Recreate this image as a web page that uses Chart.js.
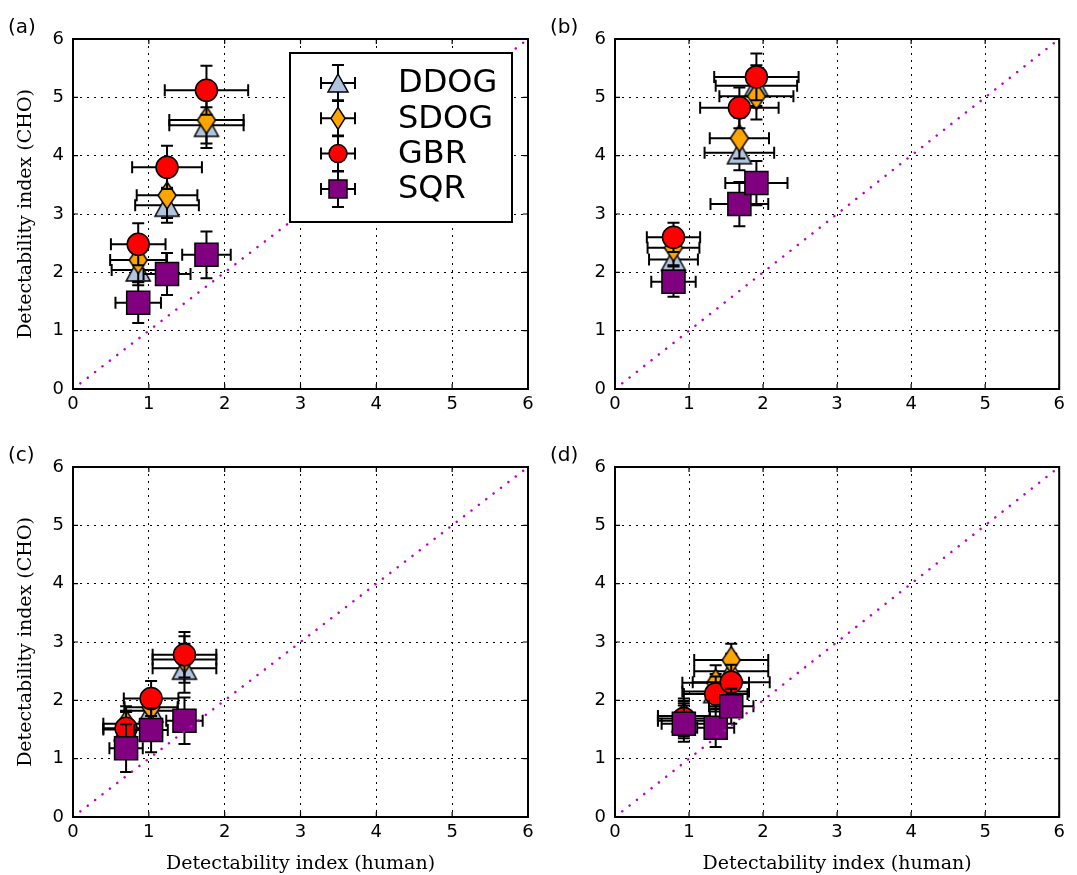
<!DOCTYPE html>
<html><head><meta charset="utf-8">
<script src="https://cdn.jsdelivr.net/npm/chart.js@4/dist/chart.umd.min.js"></script>
<style>
html,body{margin:0;padding:0;background:#fff;}
#wrap{position:relative;width:1077px;height:875px;overflow:hidden;background:#fff;}
#wrap canvas{position:absolute;left:0;top:0;}
</style></head><body>
<div id="wrap">
<canvas id="c0" width="1077" height="875"></canvas>
<canvas id="c1" width="1077" height="875"></canvas>
<canvas id="c2" width="1077" height="875"></canvas>
<canvas id="c3" width="1077" height="875"></canvas>
</div>
<script>
// ---------- data ----------
const tickValues = [0, 1, 2, 3, 4, 5, 6];
const panelLabels = ['(a)', '(b)', '(c)', '(d)'];
const seriesNames = ['DDOG', 'SDOG', 'GBR', 'SQR'];
const xTitle = 'Detectability index (human)';
const yTitle = 'Detectability index (CHO)';
// human detectability (x) per panel, 3 conditions each
const humanX = [[0.86, 1.24, 1.76], [0.79, 1.68, 1.91], [0.70, 1.03, 1.47], [0.93, 1.36, 1.57]];
// CHO detectability (y) per series, per panel
const ddogY    = [[2.04, 3.15, 4.52], [2.22, 4.05, 5.20], [1.50, 1.82, 2.55], [1.65, 2.15, 2.50]];
const ddogYErr = [[0.26, 0.30, 0.31], [0.25, 0.30, 0.35], [0.30, 0.30, 0.42], [0.30, 0.30, 0.30]];
const ddogXErr = [[0.35, 0.42, 0.49], [0.33, 0.47, 0.55], [0.30, 0.35, 0.42], [0.35, 0.45, 0.50]];
const sdogY    = [[2.21, 3.32, 4.61], [2.42, 4.30, 5.02], [1.60, 1.88, 2.70], [1.73, 2.30, 2.69]];
const sdogYErr = [[0.37, 0.39, 0.48], [0.30, 0.35, 0.40], [0.30, 0.30, 0.40], [0.30, 0.30, 0.28]];
const sdogXErr = [[0.37, 0.40, 0.49], [0.35, 0.40, 0.50], [0.30, 0.35, 0.42], [0.35, 0.45, 0.50]];
const gbrY     = [[2.48, 3.80, 5.12], [2.60, 4.82, 5.35], [1.52, 2.03, 2.78], [1.69, 2.11, 2.31]];
const gbrYErr  = [[0.36, 0.37, 0.42], [0.25, 0.35, 0.40], [0.30, 0.30, 0.39], [0.30, 0.30, 0.30]];
const gbrXErr  = [[0.36, 0.46, 0.55], [0.36, 0.53, 0.57], [0.30, 0.36, 0.42], [0.35, 0.43, 0.52]];
const sqrY     = [[1.48, 1.97, 2.30], [1.84, 3.17, 3.53], [1.18, 1.49, 1.65], [1.60, 1.53, 1.90]];
const sqrYErr  = [[0.35, 0.36, 0.40], [0.26, 0.38, 0.38], [0.41, 0.38, 0.40], [0.31, 0.33, 0.30]];
const sqrXErr  = [[0.30, 0.31, 0.32], [0.30, 0.39, 0.42], [0.22, 0.22, 0.24], [0.30, 0.25, 0.30]];
const identityLine = [0, 6];

// ---------- styles ----------
const seriesColors = ['#b0c4de', '#ffa500', '#ff0000', '#800080'];
const seriesY = [ddogY, sdogY, gbrY, sqrY];
const seriesYErr = [ddogYErr, sdogYErr, gbrYErr, sqrYErr];
const seriesXErr = [ddogXErr, sdogXErr, gbrXErr, sqrXErr];
const W = 1077, H = 875;
const areas = [[73, 39, 528, 389], [615, 39, 1068, 389], [73, 467, 528, 817], [615, 467, 1068, 817]];

Chart.defaults.font.family = "'DejaVu Sans', sans-serif";
Chart.defaults.color = '#000';

function triPath(g, cx, cy, w, h) {
  g.beginPath(); g.moveTo(cx, cy - h / 2); g.lineTo(cx + w / 2, cy + h / 2); g.lineTo(cx - w / 2, cy + h / 2); g.closePath();
}
function diaPath(g, cx, cy, w, h) {
  g.beginPath(); g.moveTo(cx, cy - h / 2); g.lineTo(cx + w / 2, cy); g.lineTo(cx, cy + h / 2); g.lineTo(cx - w / 2, cy); g.closePath();
}
function markerCanvas(kind, w, h, color) {
  const c = document.createElement('canvas');
  c.width = Math.round(w + 8); c.height = Math.round(h + 8);
  const g = c.getContext('2d');
  if (kind === 'tri') triPath(g, c.width / 2, c.height / 2, w, h); else diaPath(g, c.width / 2, c.height / 2, w, h);
  g.fillStyle = color; g.fill(); g.lineWidth = 1.5; g.strokeStyle = '#000'; g.stroke();
  return c;
}
const triImg = markerCanvas('tri', 24, 22, seriesColors[0]);
const diaImg = markerCanvas('dia', 18, 27, seriesColors[1]);
const pointStyles = [triImg, diaImg, 'circle', 'rect'];
const pointRadii = [12, 12, 11, 16.3];

function drawLegendMarker(g, k, cx, cy) {
  g.fillStyle = seriesColors[k]; g.strokeStyle = '#000'; g.lineWidth = 1.5;
  if (k === 0) triPath(g, cx, cy, 20, 18);
  else if (k === 1) diaPath(g, cx, cy, 14, 22);
  else if (k === 2) { g.beginPath(); g.arc(cx, cy, 9, 0, Math.PI * 2); }
  else { g.beginPath(); g.rect(cx - 9, cy - 9, 18, 18); }
  g.fill(); g.stroke();
}

const errorBarPlugin = {
  id: 'errorBars',
  beforeDatasetDraw(chart, args) {
    const ds = chart.data.datasets[args.index];
    if (!ds.xErr) return;
    const xs = chart.scales.x, ys = chart.scales.y, g = chart.ctx, cap = 6;
    g.save(); g.strokeStyle = '#000'; g.lineWidth = 2;
    ds.data.forEach((p, j) => {
      const px = xs.getPixelForValue(p.x), py = ys.getPixelForValue(p.y);
      const x0 = xs.getPixelForValue(p.x - ds.xErr[j]), x1 = xs.getPixelForValue(p.x + ds.xErr[j]);
      const y0 = ys.getPixelForValue(p.y - ds.yErr[j]), y1 = ys.getPixelForValue(p.y + ds.yErr[j]);
      g.beginPath();
      g.moveTo(x0, py); g.lineTo(x1, py);
      g.moveTo(px, y0); g.lineTo(px, y1);
      g.moveTo(x0, py - cap); g.lineTo(x0, py + cap);
      g.moveTo(x1, py - cap); g.lineTo(x1, py + cap);
      g.moveTo(px - cap, y0); g.lineTo(px + cap, y0);
      g.moveTo(px - cap, y1); g.lineTo(px + cap, y1);
      g.stroke();
    });
    g.restore();
  }
};

const framePlugin = {
  id: 'frame',
  afterDraw(chart) {
    const g = chart.ctx, a = chart.chartArea, xs = chart.scales.x, ys = chart.scales.y;
    const idx = chart.options.plugins.frame.index;
    g.save();
    g.strokeStyle = '#000'; g.lineWidth = 1.2;
    g.beginPath();
    tickValues.forEach(v => {
      const px = xs.getPixelForValue(v), py = ys.getPixelForValue(v);
      g.moveTo(px, a.bottom); g.lineTo(px, a.bottom - 5);
      g.moveTo(px, a.top); g.lineTo(px, a.top + 5);
      g.moveTo(a.left, py); g.lineTo(a.left + 5, py);
      g.moveTo(a.right, py); g.lineTo(a.right - 5, py);
    });
    g.stroke();
    // legend (panel a)
    if (idx === 0) {
      const bx = a.left + 217, by = a.top + 14, bw = 222, bh = 169;
      g.fillStyle = '#fff'; g.fillRect(bx, by, bw, bh);
      g.lineWidth = 2; g.strokeStyle = '#000'; g.strokeRect(bx, by, bw, bh);
      seriesNames.forEach((name, k) => {
        const cx = bx + 48, cy = by + 30 + k * 35.3;
        g.strokeStyle = '#000'; g.lineWidth = 2;
        g.beginPath();
        g.moveTo(cx - 17, cy); g.lineTo(cx + 17, cy);
        g.moveTo(cx, cy - 18); g.lineTo(cx, cy + 18);
        g.moveTo(cx - 17, cy - 6); g.lineTo(cx - 17, cy + 6);
        g.moveTo(cx + 17, cy - 6); g.lineTo(cx + 17, cy + 6);
        g.moveTo(cx - 6, cy - 18); g.lineTo(cx + 6, cy - 18);
        g.moveTo(cx - 6, cy + 18); g.lineTo(cx + 6, cy + 18);
        g.stroke();
        drawLegendMarker(g, k, cx, cy);
        g.fillStyle = '#000'; g.font = "32px 'DejaVu Sans'"; g.textBaseline = 'middle'; g.textAlign = 'left';
        g.fillText(name, bx + 108, cy + 1);
      });
    }
    // frame
    g.lineWidth = 2; g.strokeStyle = '#000';
    g.strokeRect(a.left, a.top, a.right - a.left, a.bottom - a.top);
    // panel label
    g.fillStyle = '#000'; g.font = "20px 'DejaVu Sans'"; g.textAlign = 'left'; g.textBaseline = 'middle';
    g.fillText(panelLabels[idx], a.left - 65, a.top - 11);
    g.restore();
  }
};

function makeChart(i) {
  const [L, T, R, B] = areas[i];
  const isLeft = i % 2 === 0, isBottom = i >= 2;
  const yW = isLeft ? 73 : 60, xH = isBottom ? 58 : 50;
  const datasets = seriesNames.map((name, k) => ({
    label: name,
    data: humanX[i].map((x, j) => ({ x: x, y: seriesY[k][i][j] })),
    xErr: seriesXErr[k][i],
    yErr: seriesYErr[k][i],
    pointStyle: pointStyles[k],
    pointRadius: pointRadii[k],
    pointHoverRadius: pointRadii[k],
    backgroundColor: seriesColors[k],
    borderColor: '#000',
    pointBorderWidth: 1.5,
    order: 4 - k
  }));
  datasets.push({
    label: 'identity',
    data: identityLine.map(v => ({ x: v, y: v })),
    showLine: true,
    borderColor: '#c000c0',
    borderWidth: 2.5,
    borderDash: [0.01, 9.3],
    borderCapStyle: 'round',
    pointRadius: 0,
    order: 0
  });
  return new Chart(document.getElementById('c' + i), {
    type: 'scatter',
    data: { datasets },
    plugins: [errorBarPlugin, framePlugin],
    options: {
      responsive: false,
      animation: false,
      events: [],
      layout: { padding: { left: L - yW, top: T, right: W - R, bottom: H - B - xH } },
      plugins: { legend: { display: false }, tooltip: { enabled: false }, frame: { index: i } },
      scales: {
        x: {
          type: 'linear', min: 0, max: 6, z: 1,
          afterFit(s) { s.height = xH; },
          afterBuildTicks(s) { s.ticks = tickValues.map(v => ({ value: v })); },
          ticks: { font: { size: 18 }, color: '#000', padding: 5, maxRotation: 0 },
          grid: { color: '#000', lineWidth: 1, drawTicks: false },
          border: { display: false, dash: [2, 5] },
          title: { display: isBottom, text: xTitle, color: '#000', font: { family: "'DejaVu Serif', serif", size: 19 }, padding: { top: 0, bottom: 0 } }
        },
        y: {
          type: 'linear', min: 0, max: 6, z: 1,
          afterFit(s) { s.width = yW; },
          afterBuildTicks(s) { s.ticks = tickValues.map(v => ({ value: v })); },
          ticks: { font: { size: 18 }, color: '#000', padding: 9 },
          grid: { color: '#000', lineWidth: 1, drawTicks: false },
          border: { display: false, dash: [2, 5] },
          title: { display: isLeft, text: yTitle, color: '#000', font: { family: "'DejaVu Serif', serif", size: 19 }, padding: { top: 15, bottom: 0 } }
        }
      }
    }
  });
}
[0, 1, 2, 3].forEach(makeChart);
</script>
</body></html>
